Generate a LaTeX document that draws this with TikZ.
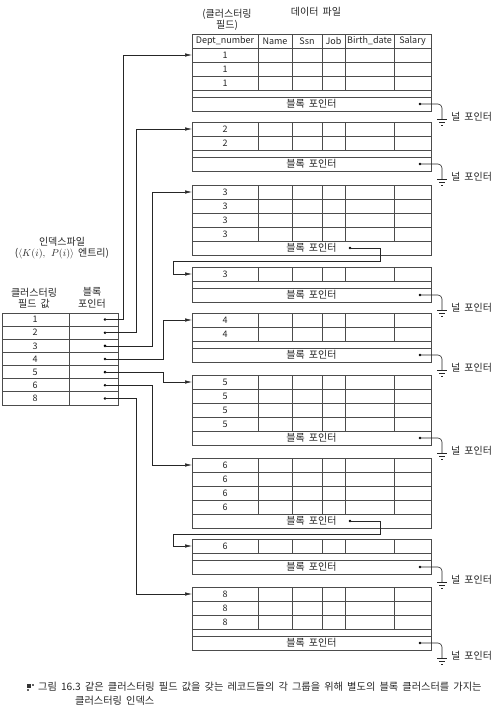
\documentclass[tikz,border=0pt]{standalone}
\usepackage{fontspec}
\setmainfont{Noto Sans CJK KR}[WordSpace=1.8]
\usetikzlibrary{arrows.meta,calc}

\tikzset{
  tbl/.style={draw=black!70, line width=0.7pt},
  txt/.style={inner sep=0pt, font=\fontsize{10}{11.5}\selectfont, text=black!85},
  lat/.style={inner sep=0pt, font=\fontsize{9}{11}\selectfont, text=black!85},
  dot/.style={circle, fill=black, inner sep=0pt, minimum size=2.8pt},
  ptr/.style={draw=black!85, line width=0.6pt, -{Latex[length=7pt,width=3.5pt]}},
  nul/.style={draw=black!85, line width=0.6pt, rounded corners=4pt},
  gnd/.pic={\draw[black!85, line width=0.6pt] (-5,0)--(5,0) (-3,3)--(3,3) (-1,6)--(1,6);}
}

% one block of the data file: name, top, rows, value, strip, dot x
\newcommand{\blk}[6]{%
  \foreach \r in {1,...,#3}{%
    \pgfmathsetmacro{\yt}{#2+(\r-1)*14}
    \draw[tbl] (192,\yt) rectangle (431,\yt+14);
    \foreach \cx in {258,292,322,345,394} \draw[tbl] (\cx,\yt) -- (\cx,\yt+14);
    \node[lat] (#1r\r) at (225,\yt+7) {#4};
  }
  \pgfmathsetmacro{\yp}{#2+#3*14+#5}
  \draw[tbl] (192,\yp-#5) rectangle (431,\yp+14);
  \draw[tbl] (192,\yp) -- (431,\yp);
  \node[txt] (#1bp) at (311.5,\yp+7) {블록 포인터};
  \node[dot] (#1d) at (#6,\yp+7) {};
  \coordinate (#1in) at (192,#2+7);
}

% null pointer with ground sign
\newcommand{\nullptr}[1]{%
  \draw[nul] (#1d.center) -- ++(22,0) -- ++(0,15) coordinate (#1g);
  \pic at (#1g) {gnd};
  \node[txt, anchor=west] (#1l) at ($(#1g)+(9,-2)$) {널 포인터};
}

\begin{document}
\begin{tikzpicture}[x=1pt, y=-1pt]
  \useasboundingbox (0,0) rectangle (499,710);

  % titles
  \node[txt, align=center] (clf) at (227,20) {(클러스터링\\필드)};
  \node[txt] (df) at (316,12) {데이터 파일};

  % header of the data file
  \draw[tbl] (192,34) rectangle (431,48);
  \foreach \cx in {258,292,322,345,394} \draw[tbl] (\cx,34) -- (\cx,48);
  \foreach \t/\cx [count=\h] in {Dept\_number/225, Name/275, Ssn/307, Job/333.5,
      Birth\_date/369.5, Salary/412.5}
    \node[lat] (hd\h) at (\cx,41) {\t};

  % data blocks
  \blk{b1}{48}{3}{1}{7}{420}
  \blk{b2}{122}{2}{2}{7}{420}
  \blk{b3}{185}{4}{3}{0}{350}
  \blk{b3b}{267}{1}{3}{7}{420}
  \blk{b4}{313}{2}{4}{7}{420}
  \blk{b5}{375}{4}{5}{0}{420}
  \blk{b6}{458}{4}{6}{0}{350}
  \blk{b6b}{539}{1}{6}{7}{420}
  \blk{b8}{587}{3}{8}{7}{420}

  % null pointers
  \foreach \b in {b1,b2,b3b,b4,b5,b6b,b8} {\nullptr{\b}}

  % overflow blocks
  \draw[ptr] (b3d.center) -- ++(30,0) |- ++(-207,13) |- (b3bin);
  \draw[ptr] (b6d.center) -- ++(30,0) |- ++(-207,13) |- (b6bin);

  % index file
  \node[txt, align=center] (ixf) at (62,248) {인덱스파일\\($\langle K(i),\ P(i)\rangle$ 엔트리)};
  \node[txt, align=center] (ixk) at (34,298) {클러스터링\\필드 값};
  \node[txt, align=center] (ixp) at (92,298) {블록\\포인터};
  \draw[tbl] (2,313) rectangle (118,405);
  \draw[tbl] (69,313) -- (69,405);
  \foreach \v [count=\i] in {1,2,3,4,5,6,8} {
    \pgfmathsetmacro{\yc}{313+(\i-0.5)*13.14}
    \node[lat] (kv\i) at (35,\yc) {\v};
    \node[dot] (k\i) at (105,\yc) {};
    \ifnum\i>1 \draw[tbl] (2,\yc-6.57) -- (118,\yc-6.57); \fi
  }

  % index pointers
  \draw[ptr] (k1.center) -- ++(18,0) |- (b1in);
  \draw[ptr] (k2.center) -- ++(31,0) |- (b2in);
  \draw[ptr] (k3.center) -- ++(47,0) |- (b3in);
  \draw[ptr] (k4.center) -- ++(58,0) |- (b4in);
  \draw[ptr] (k5.center) -- ++(58,0) |- (b5in);
  \draw[ptr] (k6.center) -- ++(47,0) |- (b6in);
  \draw[ptr] (k7.center) -- ++(31,0) |- (b8in);

  % caption
  \fill[black!80] (27,684) rectangle (31,688);
  \fill[black!60] (32,684) rectangle (34,686);
  \fill[black!60] (27,689) rectangle (29,691);
  \node[txt, anchor=west, font=\fontsize{10.2}{12}\selectfont] (cap1) at (38,687)
    {그림 16.3 같은 클러스터링 필드 값을 갖는 레코드들의 각 그룹을 위해 별도의 블록 클러스터를 가지는};
  \node[txt, anchor=west, font=\fontsize{10.2}{12}\selectfont] (cap2) at (75,701) {클러스터링 인덱스};
\end{tikzpicture}
\end{document}
